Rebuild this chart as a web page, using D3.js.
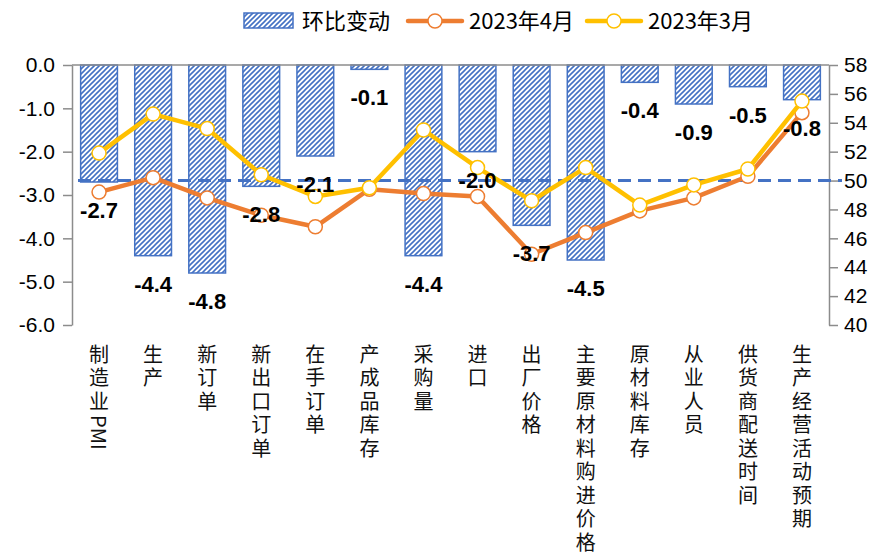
<!DOCTYPE html>
<html>
<head>
<meta charset="utf-8">
<script src="https://cdn.jsdelivr.net/npm/d3@7"></script>
<style>
  body { margin: 0; background: #fff; }
  text { font-family: "Noto Sans CJK SC", "Noto Sans", sans-serif; }
</style>
</head>
<body>
<div class="container"></div>
<script>
// data
const categories = ["制造业PMI", "生产", "新订单", "新出口订单", "在手订单", "产成品库存", "采购量",
    "进口", "出厂价格", "主要原材料购进价格", "原材料库存", "从业人员", "供货商配送时间", "生产经营活动预期"]
const change = [-2.7, -4.4, -4.8, -2.8, -2.1, -0.1, -4.4, -2.0, -3.7, -4.5, -0.4, -0.9, -0.5, -0.8]
const april = [49.2, 50.2, 48.8, 47.6, 46.8, 49.4, 49.1, 48.9, 44.9, 46.4, 47.9, 48.8, 50.3, 54.7]
const march = [51.9, 54.6, 53.6, 50.4, 48.9, 49.5, 53.5, 50.9, 48.6, 50.9, 48.3, 49.7, 50.8, 55.5]
const leftTicks = [0, -1, -2, -3, -4, -5, -6]
const rightTicks = [40, 42, 44, 46, 48, 50, 52, 54, 56, 58]
const threshold = 50

const width = 874
const height = 557
const margin = {top: 65, bottom: 232, left: 72, right: 45}

const blue = "#4472C4", orange = "#ED7D31", yellow = "#FFC000", axisGray = "#8c8c8c"

const svg = d3.select(".container")
    .append("svg")
    .attr("width", width)
    .attr("height", height)

// hatch pattern for bars
const defs = svg.append("defs")
defs.append("pattern")
    .attr("id", "hatch")
    .attr("patternUnits", "userSpaceOnUse")
    .attr("width", 5)
    .attr("height", 5)
    .append("path")
    .attr("d", "M-1,1 L1,-1 M0,5 L5,0 M4,6 L6,4")
    .attr("stroke", blue)
    .attr("stroke-width", 1.6)

// scales
const x = d3.scaleBand()
    .domain(categories)
    .range([margin.left, width - margin.right])
    .paddingInner(0.32)
    .paddingOuter(0.16)

const yL = d3.scaleLinear()
    .domain([-6, 0])
    .range([height - margin.bottom, margin.top])

const yR = d3.scaleLinear()
    .domain([40, 58])
    .range([height - margin.bottom, margin.top])

// bars
svg.append("g")
    .selectAll("rect")
    .data(change)
    .join("rect")
    .attr("x", (d, i) => x(categories[i]))
    .attr("y", yL(0))
    .attr("width", x.bandwidth())
    .attr("height", d => yL(d) - yL(0))
    .attr("fill", "url(#hatch)")
    .attr("stroke", blue)
    .attr("stroke-width", 1.5)

// axes
const left = svg.append("g")
    .attr("transform", `translate(${margin.left},0)`)
    .call(d3.axisLeft(yL).tickValues(leftTicks).tickFormat(d => d.toFixed(1)).tickSize(9).tickSizeOuter(0).tickPadding(8))

const right = svg.append("g")
    .attr("transform", `translate(${width - margin.right},0)`)
    .call(d3.axisRight(yR).tickValues(rightTicks).tickSize(9).tickSizeOuter(0).tickPadding(6))

for (const g of [left, right]) {
    g.selectAll("path, line").attr("stroke", axisGray).attr("stroke-width", 1.5)
    g.selectAll("text").attr("font-size", 21).attr("fill", "#000")
        .style("font-family", "'Liberation Sans', sans-serif")
}

// category axis along zero
svg.append("line")
    .attr("x1", margin.left)
    .attr("x2", width - margin.right)
    .attr("y1", yL(0))
    .attr("y2", yL(0))
    .attr("stroke", axisGray)
    .attr("stroke-width", 1.5)

// 50 threshold
svg.append("line")
    .attr("x1", margin.left + 6)
    .attr("x2", width - margin.right + 13)
    .attr("y1", yR(threshold))
    .attr("y2", yR(threshold))
    .attr("stroke", blue)
    .attr("stroke-width", 3)
    .attr("stroke-dasharray", "13,7")

// category labels, vertical; latin runs (PMI) without extra spacing
const catLabels = svg.append("g")
    .selectAll("text")
    .data(categories)
    .join("text")
    .attr("x", d => x(d) + x.bandwidth() / 2)
    .attr("y", 344)
    .style("writing-mode", "vertical-rl")
    .attr("font-size", 20)
    .attr("fill", "#111")

catLabels.selectAll("tspan")
    .data(d => d.match(/[A-Za-z]+|[^A-Za-z]+/g))
    .join("tspan")
    .attr("letter-spacing", d => /[A-Za-z]/.test(d) ? 0 : 3.5)
    .text(d => d)

// lines
const line = d3.line()
    .x((d, i) => x(categories[i]) + x.bandwidth() / 2)
    .y(d => yR(d))

const series = [
    {name: "2023年4月", values: april, color: orange},
    {name: "2023年3月", values: march, color: yellow}
]

for (const s of series) {
    svg.append("path")
        .datum(s.values)
        .attr("d", line)
        .attr("fill", "none")
        .attr("stroke", s.color)
        .attr("stroke-width", 4.5)
        .attr("stroke-linejoin", "round")

    svg.append("g")
        .selectAll("circle")
        .data(s.values)
        .join("circle")
        .attr("cx", (d, i) => x(categories[i]) + x.bandwidth() / 2)
        .attr("cy", d => yR(d))
        .attr("r", 7)
        .attr("fill", "#fff")
        .attr("stroke", s.color)
        .attr("stroke-width", 1.5)
}

// data labels under bar ends
svg.append("g")
    .selectAll("text")
    .data(change)
    .join("text")
    .attr("x", (d, i) => x(categories[i]) + x.bandwidth() / 2)
    .attr("y", d => yL(d) + 36)
    .attr("text-anchor", "middle")
    .attr("font-size", 22)
    .attr("font-weight", "bold")
    .attr("fill", "#000")
    .style("font-family", "'Liberation Sans', sans-serif")
    .text(d => d.toFixed(1))

// legend
const legend = svg.append("g").attr("transform", "translate(0,21)")

legend.append("rect")
    .attr("x", 244)
    .attr("y", -8)
    .attr("width", 49)
    .attr("height", 15)
    .attr("fill", "url(#hatch)")
    .attr("stroke", blue)
    .attr("stroke-width", 1.5)

legend.append("text")
    .attr("x", 302)
    .attr("y", 8)
    .attr("font-size", 22)
    .attr("fill", "#000")
    .text("环比变动")

const legendX = [408, 587]
series.forEach((s, i) => {
    const lx = legendX[i]
    legend.append("line")
        .attr("x1", lx)
        .attr("x2", lx + 54)
        .attr("stroke", s.color)
        .attr("stroke-width", 4.5)
        .attr("stroke-linecap", "round")
    legend.append("circle")
        .attr("cx", lx + 27)
        .attr("r", 7)
        .attr("fill", "#fff")
        .attr("stroke", s.color)
        .attr("stroke-width", 1.5)
    legend.append("text")
        .attr("x", lx + 61)
        .attr("y", 8)
        .attr("font-size", 22)
        .attr("fill", "#000")
        .text(s.name)
})
</script>
</body>
</html>
